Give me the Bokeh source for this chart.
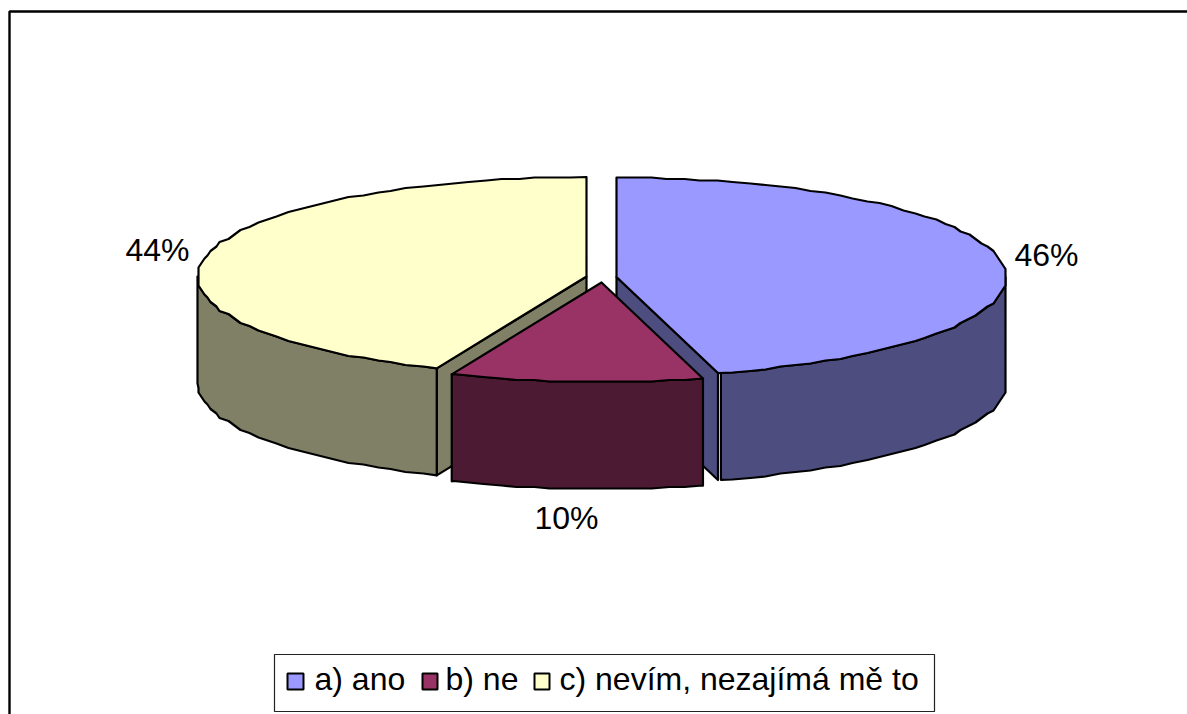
import numpy as np
from bokeh.plotting import figure
from bokeh.models import Range1d
from bokeh.core.properties import value
from bokeh.embed import file_html
from bokeh.resources import INLINE

categories = ["a) ano", "b) ne", "c) nevím, nezajímá mě to"]
shares = [45.8, 10.49, 43.71]
top_colors = ["#9999FF", "#993366", "#FFFFCC"]
side_colors = ["#4D4D80", "#4D1A33", "#808066"]

FONT = value("Liberation Sans")
RX, RY, DEPTH = 389.0, 99.5, 107.0
centers = [(616.0, 276.5), (601.0, 282.0), (586.0, 276.0)]
TEXT_DY = -11

edges = np.cumsum([0.0] + shares) / sum(shares) * 360.0


def arc(cx, cy, a0, a1, dy=0.0, gx=3.0, gy=1.5, step=2.5):
    # shared angular grid, so that top and wall outlines coincide
    inner = np.arange(np.ceil(a0 / step + 1e-6), np.floor(a1 / step - 1e-6) + 1) * step
    ang = np.r_[a0, inner, a1]
    t = np.radians(ang)
    x = cx + RX * np.sin(t)
    y = cy - RY * np.cos(t)
    # stepped outline, as the integer-rounded low resolution original
    xq = np.round(x / gx) * gx
    yq = np.round(y / gy) * gy
    xq[0], xq[-1], yq[0], yq[-1] = x[0], x[-1], y[0], y[-1]
    return xq, yq + dy


p = figure(width=1187, height=714, output_backend="svg", toolbar_location=None,
           x_range=Range1d(0, 1187), y_range=Range1d(714, 0), min_border=0)
p.axis.visible = False
p.grid.visible = False
p.outline_line_color = None
p.background_fill_color = "white"
p.border_fill_color = "white"

# chart frame
p.line([9, 9, 1187], [714, 11, 11], line_color="black", line_width=2.4)

LW = 2.2


def poly(xs, ys, color):
    p.patch(list(xs), list(ys), fill_color=color, line_color="black",
            line_width=LW, line_join="round")


def cut_face(cx, cy, ang, color):
    t = np.radians(ang)
    ex, ey = cx + RX * np.sin(t), cy - RY * np.cos(t)
    poly([cx, ex, ex, cx], [cy, ey, ey + DEPTH, cy + DEPTH], color)


def wall(cx, cy, a0, a1, color):
    xt, yt = arc(cx, cy, a0, a1)
    xb, yb = arc(cx, cy, a0, a1, dy=DEPTH)
    poly(np.r_[xt, xb[::-1]], np.r_[yt, yb[::-1]], color)


def top(cx, cy, a0, a1, color):
    x, y = arc(cx, cy, a0, a1)
    poly(np.r_[cx, x], np.r_[cy, y], color)


# slice a
cx, cy = centers[0]
cut_face(cx, cy, edges[1], side_colors[0])
wall(cx, cy, 90, edges[1] - 0.45, side_colors[0])
top(cx, cy, edges[0], edges[1], top_colors[0])

# slice c
cx, cy = centers[2]
cut_face(cx, cy, edges[2], side_colors[2])
wall(cx, cy, edges[2], 270, side_colors[2])
top(cx, cy, edges[2], edges[3], top_colors[2])

# slice b (pulled forward, in front)
cx, cy = centers[1]
wall(cx, cy, edges[1], edges[2], side_colors[1])
top(cx, cy, edges[1], edges[2], top_colors[1])

# percentage labels
labels = [f"{round(s)}%" for s in shares]
p.text([1014, 534, 125], [265 + TEXT_DY, 528 + TEXT_DY, 260 + TEXT_DY], text=labels,
       text_font=FONT, text_font_size="32px", text_color="black",
       text_align="left", text_baseline="alphabetic")

# legend
p.quad(left=[274], right=[934], top=[654], bottom=[711], fill_color="white",
       line_color="#222222", line_width=1.2)
p.quad(left=[287, 422, 534], right=[303, 437, 549], top=[673] * 3, bottom=[689] * 3,
       fill_color=top_colors, line_color="black", line_width=2)
p.text([314, 445, 559], [689 + TEXT_DY] * 3, text=categories, text_font=FONT,
       text_font_size="32px", text_color="black",
       text_align="left", text_baseline="alphabetic")

open("out.html", "w").write(file_html(p, INLINE))
